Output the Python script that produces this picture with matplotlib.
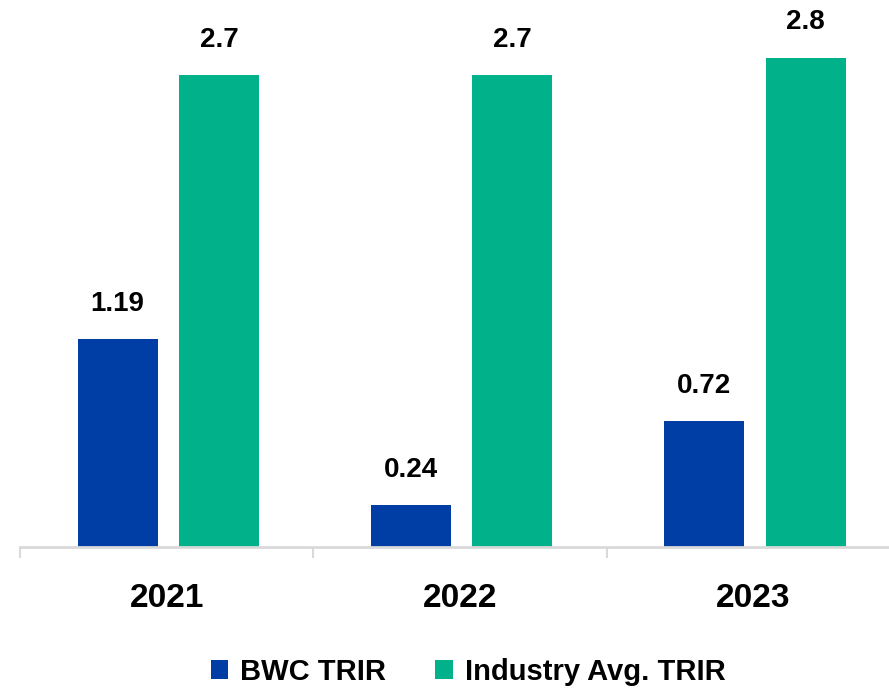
import matplotlib
matplotlib.use("Agg")
import matplotlib.pyplot as plt
import numpy as np

# ── data ─────────────────────────────────────────────────────────────────────
years = ["2021", "2022", "2023"]
bwc_trir = [1.19, 0.24, 0.72]
industry_trir = [2.7, 2.7, 2.8]
value_labels_bwc = ["1.19", "0.24", "0.72"]
value_labels_ind = ["2.7", "2.7", "2.8"]

# ── style ────────────────────────────────────────────────────────────────────
BLUE = "#003DA5"
GREEN = "#00B189"
AXIS = "#D9D9D9"
plt.rcParams["font.family"] = ["Liberation Sans", "DejaVu Sans"]

fig = plt.figure(figsize=(8.89, 6.96), dpi=100)
ax = fig.add_axes([20 / 889, 1 - 547 / 696, 880 / 889, 0.7535])

x = np.arange(len(years))
w = 0.273
b1 = ax.bar(x - 0.167, bwc_trir, w, color=BLUE, label="BWC TRIR")
b2 = ax.bar(x + 0.178, industry_trir, w, color=GREEN, label="Industry Avg. TRIR")

ax.bar_label(b1, labels=value_labels_bwc, padding=16,
             fontsize=20, fontweight="bold")
ax.bar_label(b2, labels=value_labels_ind, padding=16,
             fontsize=20, fontweight="bold")

ax.set_xlim(-0.5, 2.5)
ax.set_ylim(0, 3.0)

for s in ["top", "right", "left"]:
    ax.spines[s].set_visible(False)
ax.spines["bottom"].set_color(AXIS)
ax.spines["bottom"].set_linewidth(2)
ax.set_yticks([])

# category boundaries as tick marks, year labels as minor ticks
ax.set_xticks([-0.5, 0.5, 1.5, 2.5])
ax.set_xticklabels([])
ax.tick_params(axis="x", which="major", length=8, width=1.5, color=AXIS)
ax.set_xticks(x, minor=True)
ax.set_xticklabels(years, minor=True, fontsize=24, fontweight="bold")
ax.tick_params(axis="x", which="minor", length=0, pad=26)

fig.legend(loc="center", bbox_to_anchor=(468 / 889, 1 - 672 / 696), ncol=2,
           frameon=False, prop={"size": 21, "weight": "bold"},
           handlelength=0.6, handleheight=0.6, handletextpad=0.4,
           columnspacing=1.7)

fig.savefig("out.png", dpi=100, facecolor="white")
